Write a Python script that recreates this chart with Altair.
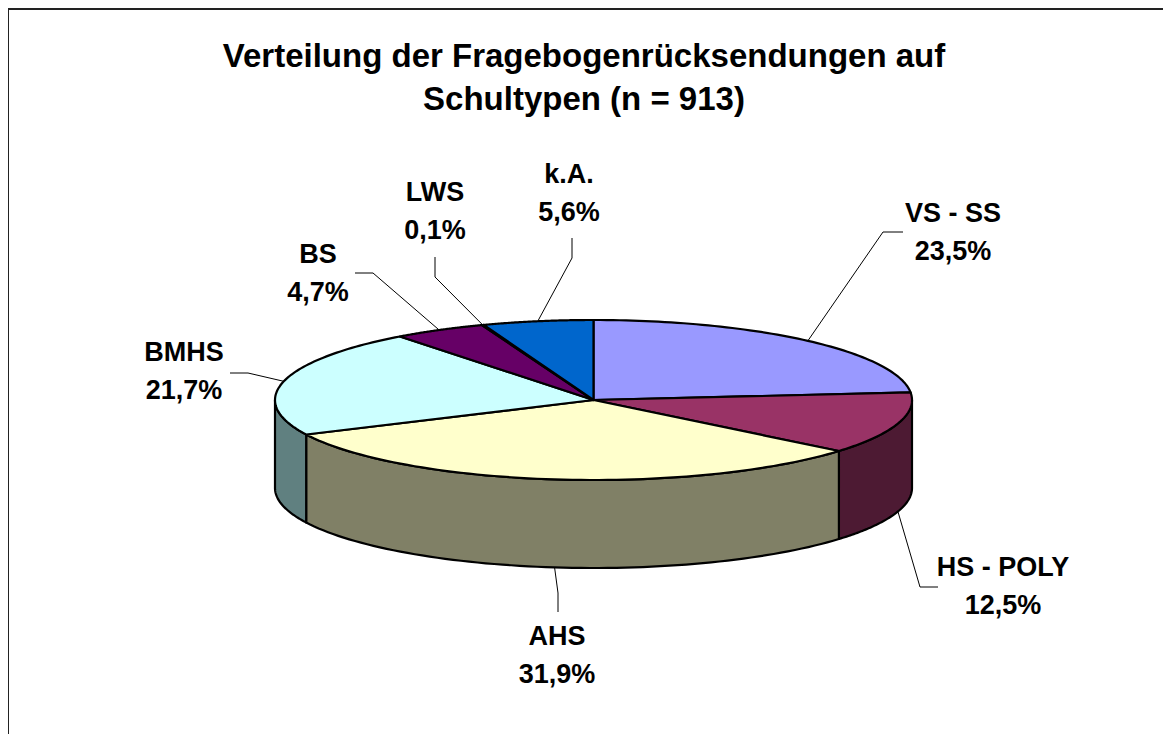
import altair as alt
import numpy as np
import pandas as pd

# ---------------- data ----------------
categories = ["VS - SS", "HS - POLY", "AHS", "BMHS", "BS", "LWS", "k.A."]
shares = [23.5, 12.5, 31.9, 21.7, 4.7, 0.1, 5.6]
top_colors = ["#9999FF", "#993366", "#FFFFCC", "#CCFFFF", "#660066", "#FF8080", "#0066CC"]
side_colors = ["#4D4D80", "#4D1A33", "#808066", "#608080", "#330033", "#804040", "#003366"]
title_lines = ["Verteilung der Fragebogenrücksendungen auf", "Schultypen (n = 913)"]

# ---------------- layout (page pixels) ----------------
W, H = 1155, 726
OX, OY = 8, 8
CX, CY, RA, RB, DEPTH = 593.5, 400.0, 318.5, 80.0, 88.0
N = 72
FONT = "Liberation Sans"

# position of the first text line of each label (centre)
label_pos = {
    "VS - SS": (953, 214), "HS - POLY": (1003, 568), "AHS": (557, 637),
    "BMHS": (184, 353), "BS": (318, 255), "LWS": (435, 193), "k.A.": (569, 175),
}
leader_bends = {
    "VS - SS": [(883, 232), (903, 232)],
    "HS - POLY": [(920, 587), (938, 587)],
    "AHS": [(558, 593), (558, 612)],
    "BMHS": [(248, 373), (230, 373)],
    "BS": [(373, 273), (355, 273)],
    "LWS": [(435, 277), (435, 257)],
    "k.A.": [(572, 258), (572, 238)],
}

df = pd.DataFrame({
    "cat": categories, "share": shares, "top": top_colors, "side": side_colors,
    "ord": list(range(len(categories))),
})

xs = alt.X("px:Q", scale=alt.Scale(domain=[OX, OX + W], nice=False, zero=False), axis=None)
ys = alt.Y("py:Q", scale=alt.Scale(domain=[OY, OY + H], nice=False, zero=False, reverse=True), axis=None)

slices = alt.Chart(df).transform_joinaggregate(total="sum(share)").transform_window(
    cum="sum(share)", sort=[alt.SortField("ord")], frame=[None, 0]
).transform_calculate(
    s0="2*PI*(datum.cum - datum.share)/datum.total",
    s1="2*PI*datum.cum/datum.total",
)

side = slices.transform_calculate(
    v0="max(datum.s0, PI/2)", v1="min(datum.s1, 3*PI/2)"
).transform_filter("datum.v1 > datum.v0").transform_calculate(
    idx=f"sequence(0, {2 * N + 2})"
).transform_flatten(["idx"]).transform_calculate(
    k=f"datum.idx <= {N} ? datum.idx : {2 * N + 1} - datum.idx"
).transform_calculate(
    ang=f"datum.v0 + (datum.v1 - datum.v0) * datum.k / {N}"
).transform_calculate(
    px=f"{CX} + {RA} * sin(datum.ang)",
    py=f"{CY} - {RB} * cos(datum.ang) + (datum.idx > {N} ? {DEPTH} : 0)",
).mark_line(interpolate="linear-closed", stroke="black", strokeWidth=2.2, strokeJoin="round").encode(
    x=xs, y=ys, order="idx:Q", detail="cat:N", fill=alt.Fill("side:N", scale=None)
)

top = slices.transform_calculate(
    idx=f"sequence(0, {N + 2})"
).transform_flatten(["idx"]).transform_calculate(
    ang=f"datum.s0 + (datum.s1 - datum.s0) * (datum.idx - 1) / {N}"
).transform_calculate(
    px=f"datum.idx == 0 ? {CX} : {CX} + {RA} * sin(datum.ang)",
    py=f"datum.idx == 0 ? {CY} : {CY} - {RB} * cos(datum.ang)",
).mark_line(interpolate="linear-closed", stroke="black", strokeWidth=2.2, strokeJoin="round").encode(
    x=xs, y=ys, order="idx:Q", detail="cat:N", fill=alt.Fill("top:N", scale=None)
)

# leader lines: start on the pie edge at the slice's mid angle
total = float(sum(shares))
cum = np.cumsum(shares)
rows = []
for i, c in enumerate(categories):
    mid = 2 * np.pi * (cum[i] - shares[i] / 2) / total
    sx = CX + RA * np.sin(mid)
    sy = CY - RB * np.cos(mid) + (DEPTH if np.cos(mid) < 0 else 0)
    pts = [(sx, sy)] + leader_bends[c]
    for j, (x, y) in enumerate(pts):
        rows.append({"cat": c, "seq": j, "px": x, "py": y})
leader_df = pd.DataFrame(rows)
leaders = alt.Chart(leader_df).mark_line(stroke="black", strokeWidth=1).encode(
    x=xs, y=ys, order="seq:Q", detail="cat:N"
)

lab_df = pd.DataFrame({
    "cat": categories,
    "label": [c + "\n" + f"{v:.1f}".replace(".", ",") + "%" for c, v in zip(categories, shares)],
    "px": [label_pos[c][0] for c in categories],
    "py": [label_pos[c][1] for c in categories],
})
labels = alt.Chart(lab_df).mark_text(
    font=FONT, fontSize=27, fontWeight="bold", lineBreak="\n", lineHeight=38,
    align="center", baseline="middle", color="black"
).encode(x=xs, y=ys, text="label:N")

title_df = pd.DataFrame({"t": ["\n".join(title_lines)], "px": [584], "py": [57]})
title = alt.Chart(title_df).mark_text(
    font=FONT, fontSize=33, fontWeight="bold", lineBreak="\n", lineHeight=43,
    align="center", baseline="middle", color="black"
).encode(x=xs, y=ys, text="t:N")

border_l = alt.Chart(title_df).mark_rule(color="#222222", strokeWidth=2).encode(
    x=alt.value(0), y=alt.value(1), y2=alt.value(H)
)
border_t = alt.Chart(title_df).mark_rule(color="#222222", strokeWidth=2).encode(
    y=alt.value(1), x=alt.value(0), x2=alt.value(W)
)

chart = alt.layer(side, top, leaders, labels, title, border_l, border_t).properties(
    width=W, height=H, padding=0, autosize=alt.AutoSizeParams(type="none")
).configure_view(stroke=None)

chart.save("out.html", embed_options={"renderer": "svg", "actions": False})
